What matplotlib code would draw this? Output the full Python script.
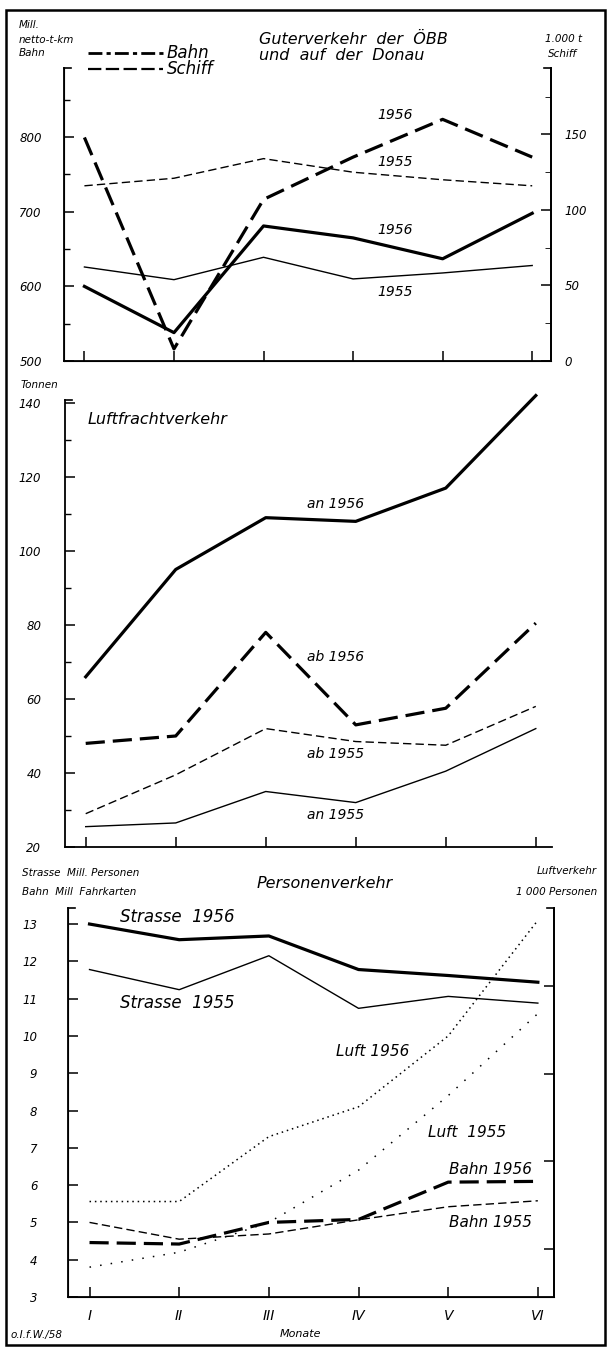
import numpy as np
import matplotlib
matplotlib.use('Agg')
import matplotlib.pyplot as plt
from matplotlib.lines import Line2D
from matplotlib.patches import Rectangle

plt.rcParams['font.family'] = ['Liberation Sans Narrow', 'DejaVu Sans']
plt.rcParams['font.style'] = 'italic'

monate = ['I', 'II', 'III', 'IV', 'V', 'VI']
x = np.arange(1, 7)

# Gueterverkehr (Bahn: Mill. netto-t-km, Schiff: 1000 t)
bahn_1956 = [600, 538, 681, 665, 637, 698]
bahn_1955 = [626, 609, 639, 610, 618, 628]
schiff_1956 = [148, 8, 107, 135, 160, 135]
schiff_1955 = [116, 121, 134, 125, 120, 116]

# Luftfrachtverkehr (Tonnen)
an_1956 = [66, 95, 109, 108, 117, 142]
ab_1956 = [48, 50, 78, 53, 57.5, 80.5]
ab_1955 = [29, 39.5, 52, 48.5, 47.5, 58]
an_1955 = [25.5, 26.5, 35, 32, 40.5, 52]

# Personenverkehr
strasse_1956 = [13.0, 12.58, 12.68, 11.78, 11.62, 11.44]
strasse_1955 = [11.78, 11.24, 12.15, 10.74, 11.06, 10.88]
luft_1956 = [5.56, 5.56, 7.3, 8.1, 10.0, 13.1]
luft_1955 = [3.8, 4.2, 5.0, 6.4, 8.4, 10.6]
bahnp_1956 = [4.46, 4.42, 5.0, 5.08, 6.08, 6.1]
bahnp_1955 = [5.0, 4.55, 4.69, 5.07, 5.42, 5.58]

W, H = 610, 1352
fx = lambda p: p / W
fy = lambda p: 1 - p / H

fig = plt.figure(figsize=(6.1, 13.52), dpi=100)

def setup(ax, right=False):
    ax.spines['top'].set_visible(False)
    ax.spines['right'].set_visible(right)
    for s in ax.spines.values():
        s.set_linewidth(1.3)
    ax.set_xticks(x)
    ax.set_xticklabels([])
    ax.tick_params(direction='in', length=7, width=1.1, labelsize=8.5)
    ax.tick_params(which='minor', direction='in', length=4, width=1)
    ax.plot([0, 0.014], [1, 1], color='k', lw=1.2, transform=ax.transAxes, clip_on=False)

thick = dict(color='k', lw=2.3, clip_on=False)
thin = dict(color='k', lw=1.0, clip_on=False)

# ---------- oben: Gueterverkehr ----------
ax1 = fig.add_axes([fx(64), fy(361), fx(551) - fx(64), fy(68) - fy(361)])
ax1.set_xlim(0.772, 6.21)
ax1.set_ylim(500, 892.7)
setup(ax1, right=True)
ax1.set_yticks([500, 600, 700, 800])
ax1.set_yticks([550, 650, 750, 850], minor=True)
ax1.tick_params(axis='y', pad=16)
ax1.plot(x, bahn_1956, **thick)
ax1.plot(x, bahn_1955, **thin)

ax1r = ax1.twinx()
ax1r.set_ylim(0, 194)
ax1r.spines['top'].set_visible(False)
ax1r.spines['right'].set_linewidth(1.3)
ax1r.set_yticks([0, 50, 100, 150])
ax1r.set_yticks([25, 75, 125, 175], minor=True)
ax1r.tick_params(direction='in', length=7, width=1.1, labelsize=8.5, pad=10)
ax1r.tick_params(which='minor', direction='in', length=4)
ax1r.plot([0.986, 1], [1, 1], color='k', lw=1.2, transform=ax1r.transAxes, clip_on=False)
ax1r.plot(x, schiff_1956, dashes=(6, 2.5), **thick)
ax1r.plot(x, schiff_1955, dashes=(6, 3), **thin)

for yv, t in [(830, '1956'), (767, '1955'), (676, '1956'), (593, '1955')]:
    ax1.text(4.47, yv, t, ha='center', va='center', fontsize=10)

# Kopf oben
fig.text(fx(19), fy(25), 'Mill.', fontsize=7.5, va='center')
fig.text(fx(19), fy(40), 'netto-t-km', fontsize=7.5, va='center')
fig.text(fx(19), fy(53), 'Bahn', fontsize=7.5, va='center')
fig.text(fx(259), fy(39), 'Guterverkehr  der  ÖBB', fontsize=11.5, va='center')
fig.text(fx(259), fy(55), 'und  auf  der  Donau', fontsize=11.5, va='center')
fig.text(fx(564), fy(39), '1.000 t', fontsize=7.5, va='center', ha='center')
fig.text(fx(562), fy(54), 'Schiff', fontsize=7.5, va='center', ha='center')
fig.add_artist(Line2D([fx(88), fx(163)], [fy(53), fy(53)], color='k', lw=2,
                      dashes=(5, 1.5, 1.5, 1.5), transform=fig.transFigure))
fig.add_artist(Line2D([fx(88), fx(163)], [fy(69), fy(69)], color='k', lw=1.6,
                      dashes=(6, 2), transform=fig.transFigure))
fig.text(fx(167), fy(53), 'Bahn', fontsize=12, va='center')
fig.text(fx(167), fy(69), 'Schiff', fontsize=12, va='center')

# ---------- Mitte: Luftfrachtverkehr ----------
ax2 = fig.add_axes([fx(65), fy(847), fx(552) - fx(65), fy(400) - fy(847)])
ax2.set_xlim(0.77, 6.18)
ax2.set_ylim(20, 140.8)
setup(ax2)
ax2.set_yticks([20, 40, 60, 80, 100, 120, 140])
ax2.set_yticks([30, 50, 70, 90, 110, 130], minor=True)
ax2.tick_params(axis='y', pad=17)
ax2.plot(x, an_1956, **thick)
ax2.plot(x, ab_1956, dashes=(6, 2.5), **thick)
ax2.plot(x, ab_1955, dashes=(6, 3), **thin)
ax2.plot(x, an_1955, **thin)
for yv, t in [(112.7, 'an 1956'), (71.4, 'ab 1956'), (45.1, 'ab 1955'), (28.6, 'an 1955')]:
    ax2.text(3.78, yv, t, ha='center', va='center', fontsize=10)
fig.text(fx(21), fy(385), 'Tonnen', fontsize=7.5, va='center')
fig.text(fx(88), fy(420), 'Luftfrachtverkehr', fontsize=11.5, va='center')

# ---------- unten: Personenverkehr ----------
ax3 = fig.add_axes([fx(68), fy(1297), fx(554) - fx(68), fy(908) - fy(1297)])
ax3.set_xlim(0.76, 6.18)
ax3.set_ylim(3, 13.43)
setup(ax3, right=True)
ax3.set_yticks(range(3, 14))
ax3.tick_params(axis='y', pad=22)
ax3.set_xticklabels(monate, fontsize=10)
ax3.tick_params(axis='x', pad=9)
ax3.plot(x, strasse_1956, **thick)
ax3.plot(x, strasse_1955, **thin)
ax3.plot(x, luft_1956, color='k', lw=1.1, ls=(0, (1, 2.5)), clip_on=False)
ax3.plot(x, luft_1955, color='k', lw=1.1, ls=(0, (1, 6)), clip_on=False)
ax3.plot(x, bahnp_1956, dashes=(6, 2.5), **thick)
ax3.plot(x, bahnp_1955, dashes=(6, 3), **thin)

ax3r = ax3.twinx()
ax3r.set_ylim(4.53, 48.9)
ax3r.spines['top'].set_visible(False)
ax3r.spines['right'].set_linewidth(1.3)
ax3r.set_yticks([10, 20, 30, 40])
ax3r.set_yticklabels([])
ax3r.tick_params(direction='in', length=7, width=1.1)
ax3r.plot([0.986, 1], [1, 1], color='k', lw=1.2, transform=ax3r.transAxes, clip_on=False)

ax3.text(1.98, 13.19, 'Strasse  1956', ha='center', va='center', fontsize=12)
ax3.text(1.98, 10.88, 'Strasse  1955', ha='center', va='center', fontsize=12)
ax3.text(4.16, 9.57, 'Luft 1956', ha='center', va='center', fontsize=11)
ax3.text(5.21, 7.42, 'Luft  1955', ha='center', va='center', fontsize=11)
ax3.text(5.93, 6.43, 'Bahn 1956', ha='right', va='center', fontsize=11)
ax3.text(5.93, 5.01, 'Bahn 1955', ha='right', va='center', fontsize=11)

fig.text(fx(22), fy(873), 'Strasse  Mill. Personen', fontsize=7.5, va='center')
fig.text(fx(22), fy(892), 'Bahn  Mill  Fahrkarten', fontsize=7.5, va='center')
fig.text(fx(325), fy(883), 'Personenverkehr', fontsize=11.5, va='center', ha='center')
fig.text(fx(597), fy(871), 'Luftverkehr', fontsize=7.5, va='center', ha='right')
fig.text(fx(597), fy(892), '1 000 Personen', fontsize=7.5, va='center', ha='right')
fig.text(fx(300), fy(1334), 'Monate', fontsize=8, va='center', ha='center')
fig.text(fx(11), fy(1335), 'o.I.f.W./58', fontsize=7.5, va='center')

fig.add_artist(Rectangle((fx(6), fy(1345)), fx(605) - fx(6), fy(10) - fy(1345),
                         fill=False, lw=1.8, ec='k', transform=fig.transFigure))

fig.savefig('out.png', dpi=100, facecolor='white')
